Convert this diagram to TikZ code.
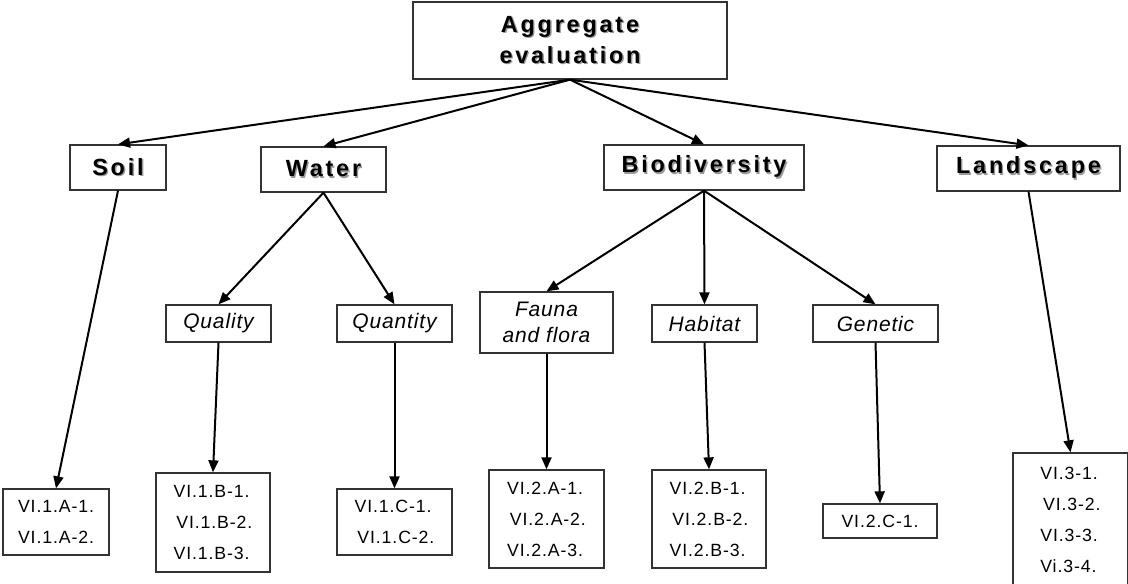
\documentclass[tikz,border=0pt]{standalone}
\usepackage{fontspec}
\setmainfont{Liberation Sans}
\newfontfamily\widesans[LetterSpace=12]{Liberation Sans}
\newfontfamily\subsans[LetterSpace=4]{Liberation Sans}
\newfontfamily\leafsans[LetterSpace=5]{Liberation Sans}
\usetikzlibrary{arrows.meta}
\newcommand{\shadowed}[1]{\leavevmode\rlap{\hspace{0.7pt}\raisebox{-0.7pt}{\color{black!40}#1}}#1}
\newcommand{\nudge}{\hspace{1.4pt}}

\begin{document}
\begin{tikzpicture}[
       x=0.5pt, y=-0.5pt,
       thick,
       mainbox/.style={
         draw=black!80,
         line width=0.65pt,
         inner sep=2pt,
         align=center,
         font=\widesans\bfseries\fontsize{11.7}{15.5}\selectfont
       },
       subbox/.style={
         draw=black!80,
         line width=0.65pt,
         inner sep=2pt,
         align=center,
         font=\subsans\itshape\fontsize{10.5}{13}\selectfont
       },
       leafbox/.style={
         draw=black!80,
         line width=0.65pt,
         inner sep=2pt,
         align=left,
         font=\leafsans\fontsize{8.85}{15.5}\selectfont
       },
       dims/.style 2 args={minimum width=#1*0.5pt, minimum height=#2*0.5pt},
       link/.style={-{Triangle[length=6pt,width=5pt]}, line width=1pt}
     ]
       \useasboundingbox (0,0) rectangle (1128,583);

       \node (agg) at (570,40.5) [mainbox,dims={314}{77}]{\shadowed{Aggregate}\\\shadowed{evaluation}};

       \node (soil) at (118,167.5) [mainbox,dims={96}{45}]{\shadowed{Soil}};
       \node (water) at (323.5,169.5) [mainbox,dims={125}{45}]{\shadowed{Water}};
       \node (bio) at (704,167.5) [mainbox,dims={200}{45}]{\shadowed{Biodiversity}};
       \node (land) at (1028.5,168.5) [mainbox,dims={183}{45}]{\shadowed{Landscape}};

       \node (quality) at (218.5,323.5) [subbox,dims={105}{37}]{Quality};
       \node (quantity) at (394.5,323.5) [subbox,dims={115}{37}]{Quantity};
       \node (fauna) at (546.5,322.5) [subbox,dims={133}{61}]{Fauna\\and flora};
       \node (habitat) at (704.5,323.5) [subbox,dims={105}{37}]{Habitat};
       \node (genetic) at (875.5,323.5) [subbox,dims={125}{37}]{Genetic};

       \node (vi1a) at (56,522) [leafbox,dims={106}{66}]{VI.1.A-1.\\VI.1.A-2.};
       \node (vi1b) at (213,522.5) [leafbox,dims={114}{99}]{VI.1.B-1.\\\nudge VI.1.B-2.\\VI.1.B-3.};
       \node (vi1c) at (394.5,522) [leafbox,dims={115}{66}]{VI.1.C-1.\\\nudge VI.1.C-2.};
       \node (vi2a) at (546.5,519) [leafbox,dims={115}{98}]{VI.2.A-1.\\\nudge VI.2.A-2.\\VI.2.A-3.};
       \node (vi2b) at (709,519) [leafbox,dims={114}{98}]{VI.2.B-1.\\\nudge VI.2.B-2.\\VI.2.B-3.};
       \node (vi2c) at (880,521) [leafbox,dims={114}{34}]{VI.2.C-1.};
       \node (vi3) at (1070.5,520) [leafbox,dims={115}{134}]{VI.3-1.\\\nudge VI.3-2.\\VI.3-3.\\Vi.3-4.};

       \draw[link] (agg.south) -- (soil.north);
       \draw[link] (agg.south) -- (water.north);
       \draw[link] (agg.south) -- (bio.north);
       \draw[link] (agg.south) -- (land.north);

       \draw[link] (water.south) -- (quality.north);
       \draw[link] (water.south) -- (quantity.north);
       \draw[link] (bio.south) -- (fauna.north);
       \draw[link] (bio.south) -- (habitat.north);
       \draw[link] (bio.south) -- (genetic.north);

       \draw[link] (soil.south) -- (vi1a.north);
       \draw[link] (quality.south) -- (vi1b.north);
       \draw[link] (quantity.south) -- (vi1c.north);
       \draw[link] (fauna.south) -- (vi2a.north);
       \draw[link] (habitat.south) -- (vi2b.north);
       \draw[link] (genetic.south) -- (vi2c.north);
       \draw[link] (land.south) -- (vi3.north);

\end{tikzpicture}
\end{document}
